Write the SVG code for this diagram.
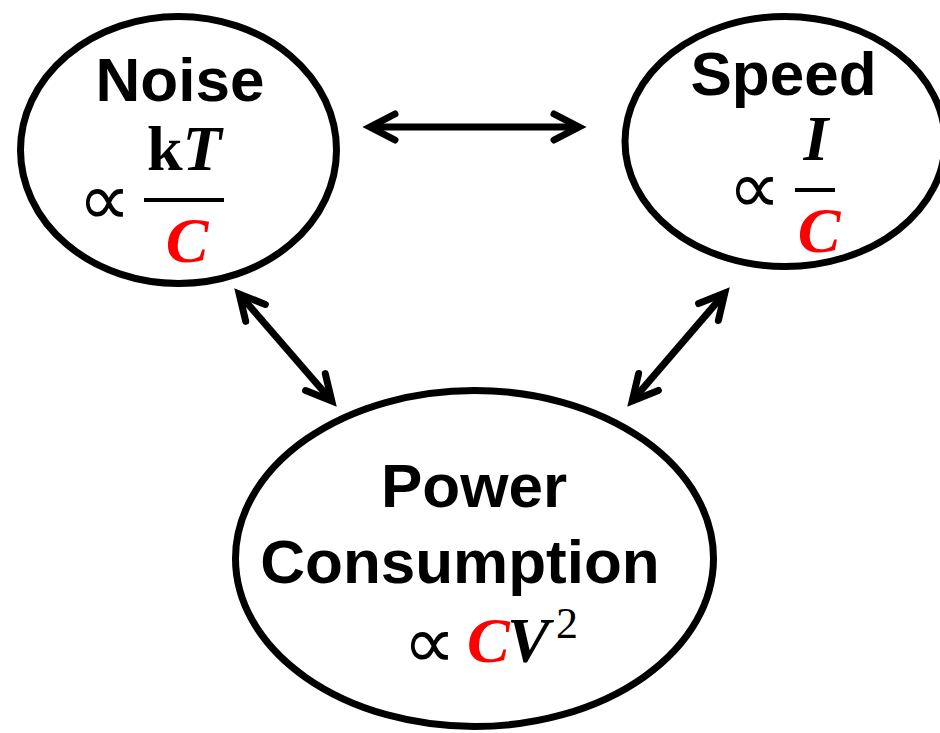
<svg xmlns="http://www.w3.org/2000/svg" width="940" height="733" viewBox="0 0 940 733">
  <style>
    .node { fill: #ffffff; stroke: #000000; stroke-width: 7; }
    .title { font-family: "Liberation Sans", Arial, sans-serif; font-weight: bold; font-size: 62px; fill: #000000; }
    .math { font-family: "Liberation Serif", "Times New Roman", serif; font-weight: bold; font-style: italic; font-size: 64px; fill: #000000; }
    .up { font-style: normal; }
    .red { fill: #ff0000; }
    .prop { font-family: "DejaVu Sans", sans-serif; font-size: 74px; fill: #000000; }
    .sup { font-family: "Liberation Serif", "Times New Roman", serif; font-size: 44px; fill: #000000; }
    .bar { stroke: #000000; stroke-width: 4; }
    .conn { stroke: #000000; stroke-width: 7; fill: none; marker-start: url(#ah); marker-end: url(#ah); }
  </style>
  <defs>
    <marker id="ah" markerUnits="userSpaceOnUse" orient="auto-start-reverse" viewBox="-40 -40 80 80" markerWidth="80" markerHeight="80" refX="0" refY="0" overflow="visible">
      <path d="M-25,-13 L0,0 L-25,13" fill="none" stroke="#000000" stroke-width="7" stroke-linecap="round" stroke-linejoin="miter"/>
    </marker>
  </defs>
  <rect width="940" height="733" fill="#ffffff"/>

  <g id="noise">
    <ellipse class="node" cx="178.5" cy="150" rx="158" ry="133.5"/>
    <text class="title" x="180" y="101" text-anchor="middle">Noise</text>
    <text class="prop" x="78" y="225">∝</text>
    <text class="math" x="147" y="170"><tspan class="up">k</tspan>T</text>
    <line class="bar" x1="144" y1="200" x2="224" y2="200"/>
    <text class="math red" x="187" y="262" text-anchor="middle">C</text>
  </g>

  <g id="speed">
    <ellipse class="node" cx="785" cy="141.5" rx="160" ry="125"/>
    <text class="title" x="783.5" y="95" text-anchor="middle">Speed</text>
    <text class="prop" x="728" y="213">∝</text>
    <text class="math" x="816" y="160" text-anchor="middle">I</text>
    <line class="bar" x1="795" y1="190" x2="835" y2="190"/>
    <text class="math red" x="819" y="252" text-anchor="middle">C</text>
  </g>

  <g id="power">
    <ellipse class="node" cx="474.5" cy="558.5" rx="239" ry="168"/>
    <text class="title" x="474" y="507" text-anchor="middle">Power</text>
    <text class="title" x="460" y="583" text-anchor="middle">Consumption</text>
    <text class="prop" x="403" y="668">∝</text>
    <text class="math red" x="467" y="662" font-size="60">C</text>
    <text class="math" x="507" y="662">V</text>
    <text class="sup" x="556" y="638">2</text>
  </g>

  <g id="connectors">
    <line class="conn" x1="370" y1="127" x2="579" y2="127"/>
    <line class="conn" x1="239.2" y1="294" x2="331.8" y2="401"/>
    <line class="conn" x1="724.8" y1="293.1" x2="632.2" y2="400.9"/>
  </g>
</svg>
